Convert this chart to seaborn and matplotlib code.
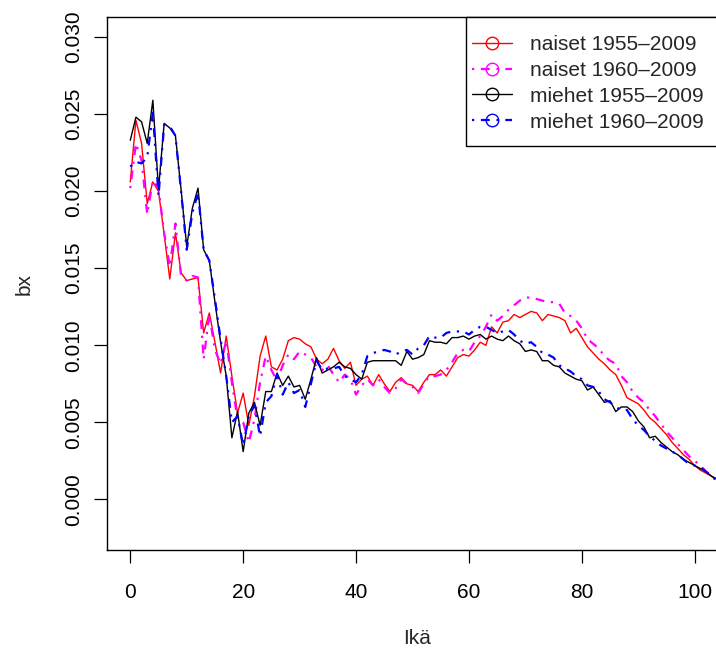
import matplotlib
matplotlib.use("Agg")
import matplotlib.pyplot as plt
from matplotlib.lines import Line2D
from matplotlib.patches import Rectangle
import numpy as np
import pandas as pd
import seaborn as sns

# Age (years) and the bx schedules estimated for each sex and fitting period
ages = list(range(0, 105))

naiset_1955 = [
    0.0206, 0.0246, 0.0231, 0.0192, 0.0206, 0.0200, 0.0172, 0.0143, 0.0173, 0.0147,
    0.0142, 0.0143, 0.0144, 0.0108, 0.0121, 0.0102, 0.0082, 0.0106, 0.0080, 0.0056,
    0.0069, 0.0048, 0.0067, 0.0093, 0.0106, 0.0086, 0.0084, 0.0091, 0.0103, 0.0105,
    0.0104, 0.0101, 0.0099, 0.0091, 0.0088, 0.0091, 0.0098, 0.0090, 0.0085, 0.0089,
    0.0074, 0.0078, 0.0080, 0.0074, 0.0081, 0.0075, 0.0070, 0.0076, 0.0079, 0.0075,
    0.0074, 0.0070, 0.0076, 0.0081, 0.0081, 0.0084, 0.0080, 0.0086, 0.0092, 0.0094,
    0.0093, 0.0097, 0.0102, 0.0100, 0.0112, 0.0108, 0.0115, 0.0116, 0.0120, 0.0118,
    0.0120, 0.0122, 0.0121, 0.0116, 0.0120, 0.0119, 0.0118, 0.0116, 0.0108, 0.0111,
    0.0105, 0.0099, 0.0095, 0.0091, 0.0088, 0.0084, 0.0081, 0.0074, 0.0066, 0.0064,
    0.0062, 0.0058, 0.0053, 0.0050, 0.0046, 0.0042, 0.0037, 0.0033, 0.0029, 0.0026,
    0.0022, 0.0019, 0.0017, 0.0015, 0.0013,
]

naiset_1960 = [
    0.0202, 0.0231, 0.0220, 0.0185, 0.0207, 0.0202, 0.0173, 0.0151, 0.0179, 0.0145,
    0.0142, 0.0145, 0.0144, 0.0091, 0.0120, 0.0097, 0.0088, 0.0103, 0.0076, 0.0052,
    0.0050, 0.0037, 0.0052, 0.0076, 0.0093, 0.0084, 0.0077, 0.0087, 0.0094, 0.0091,
    0.0096, 0.0094, 0.0092, 0.0086, 0.0084, 0.0087, 0.0081, 0.0076, 0.0081, 0.0078,
    0.0068, 0.0074, 0.0078, 0.0074, 0.0078, 0.0073, 0.0069, 0.0072, 0.0078, 0.0075,
    0.0073, 0.0069, 0.0075, 0.0080, 0.0080, 0.0081, 0.0084, 0.0089, 0.0095, 0.0097,
    0.0096, 0.0102, 0.0106, 0.0112, 0.0120, 0.0116, 0.0119, 0.0123, 0.0126, 0.0129,
    0.0131, 0.0131, 0.0130, 0.0129, 0.0128, 0.0128, 0.0127, 0.0121, 0.0119, 0.0116,
    0.0111, 0.0104, 0.0101, 0.0098, 0.0093, 0.0090, 0.0088, 0.0080, 0.0076, 0.0070,
    0.0066, 0.0063, 0.0058, 0.0054, 0.0049, 0.0044, 0.0040, 0.0036, 0.0032, 0.0028,
    0.0025, 0.0022, 0.0018, 0.0015, 0.0012,
]

miehet_1955 = [
    0.0233, 0.0248, 0.0245, 0.0231, 0.0259, 0.0201, 0.0244, 0.0241, 0.0236, 0.0201,
    0.0164, 0.0189, 0.0202, 0.0162, 0.0155, 0.0128, 0.0102, 0.0080, 0.0040, 0.0057,
    0.0031, 0.0056, 0.0063, 0.0048, 0.0070, 0.0070, 0.0082, 0.0074, 0.0080, 0.0073,
    0.0074, 0.0065, 0.0078, 0.0092, 0.0082, 0.0084, 0.0086, 0.0089, 0.0086, 0.0085,
    0.0081, 0.0078, 0.0089, 0.0090, 0.0090, 0.0090, 0.0090, 0.0090, 0.0087, 0.0096,
    0.0091, 0.0092, 0.0094, 0.0103, 0.0102, 0.0102, 0.0101, 0.0105, 0.0105, 0.0106,
    0.0104, 0.0106, 0.0107, 0.0104, 0.0106, 0.0104, 0.0103, 0.0106, 0.0103, 0.0101,
    0.0096, 0.0097, 0.0096, 0.0090, 0.0090, 0.0087, 0.0086, 0.0082, 0.0080, 0.0078,
    0.0077, 0.0071, 0.0073, 0.0068, 0.0063, 0.0064, 0.0057, 0.0060, 0.0060, 0.0057,
    0.0051, 0.0047, 0.0040, 0.0041, 0.0037, 0.0034, 0.0031, 0.0029, 0.0026, 0.0024,
    0.0022, 0.0020, 0.0018, 0.0015, 0.0013,
]

miehet_1960 = [
    0.0216, 0.0219, 0.0218, 0.0222, 0.0251, 0.0197, 0.0243, 0.0242, 0.0236, 0.0200,
    0.0162, 0.0186, 0.0199, 0.0162, 0.0155, 0.0130, 0.0104, 0.0080, 0.0050, 0.0054,
    0.0035, 0.0054, 0.0061, 0.0041, 0.0063, 0.0067, 0.0081, 0.0068, 0.0076, 0.0069,
    0.0071, 0.0060, 0.0075, 0.0090, 0.0084, 0.0085, 0.0085, 0.0086, 0.0080, 0.0078,
    0.0076, 0.0081, 0.0093, 0.0095, 0.0096, 0.0097, 0.0096, 0.0094, 0.0096, 0.0097,
    0.0094, 0.0098, 0.0100, 0.0106, 0.0105, 0.0105, 0.0108, 0.0109, 0.0109, 0.0109,
    0.0107, 0.0110, 0.0112, 0.0112, 0.0110, 0.0108, 0.0109, 0.0110, 0.0107, 0.0103,
    0.0101, 0.0102, 0.0099, 0.0095, 0.0094, 0.0092, 0.0087, 0.0085, 0.0083, 0.0080,
    0.0078, 0.0074, 0.0073, 0.0070, 0.0065, 0.0063, 0.0060, 0.0058, 0.0058, 0.0052,
    0.0048, 0.0045, 0.0041, 0.0038, 0.0035, 0.0033, 0.0031, 0.0029, 0.0026, 0.0023,
    0.0022, 0.0021, 0.0018, 0.0015, 0.0012,
]

labels = ["naiset 1955\u20132009", "naiset 1960\u20132009",
          "miehet 1955\u20132009", "miehet 1960\u20132009"]
colors = ["#FF0000", "#FF00FF", "#000000", "#0000FF"]

x_ticks = [0, 20, 40, 60, 80, 100]
y_ticks = [0.000, 0.005, 0.010, 0.015, 0.020, 0.025, 0.030]

sns.set_style("white")
plt.rcParams["font.family"] = ["Liberation Sans", "DejaVu Sans"]

W, H = 716, 649
fig = plt.figure(figsize=(W / 100, H / 100), dpi=100)
ax = fig.add_axes([107.3 / W, 99 / H, (727.5 - 107.3) / W, (550 - 17.3) / H])

series = [naiset_1955, naiset_1960, miehet_1955, miehet_1960]
solid_lw = 1.0
dash_lw = 1.6
dotdash = (0, (1, 3, 4, 3))
styles = [("-", solid_lw), (dotdash, dash_lw), ("-", solid_lw), (dotdash, dash_lw)]

for vals, lab, col, (ls, lw) in zip(series, labels, colors, styles):
    df = pd.DataFrame({"age": ages, "bx": vals})
    sns.lineplot(data=df, x="age", y="bx", ax=ax, color=col,
                 linestyle=ls, linewidth=lw, legend=False)

ax.set_xlim(-4.07, 105.8)
ax.set_ylim(-0.00328, 0.03128)
ax.set_xticks(x_ticks)
ax.set_xticklabels([str(t) for t in x_ticks])
ax.set_yticks(y_ticks)
ax.set_yticklabels([f"{t:.3f}" for t in y_ticks])

for sp in ax.spines.values():
    sp.set_visible(True)
    sp.set_color("black")
    sp.set_linewidth(1.0)

ax.tick_params(axis="both", which="major", direction="out", length=9.4,
               width=0.9, color="black", labelsize=15, labelcolor="black",
               bottom=True, left=True, top=False, right=False)
ax.tick_params(axis="x", pad=14)
ax.tick_params(axis="y", pad=8)
for lab in ax.get_yticklabels():
    lab.set_rotation(90)
    lab.set_va("center")
    lab.set_ha("right")

ax.set_xlabel("Ik\u00e4", fontsize=15, labelpad=20)
ax.set_ylabel("bx", fontsize=15, labelpad=22)
ax.grid(False)

# Legend box in the top-right corner of the plotting region
frame = Rectangle((466 / W, 1 - 146 / H), (727.5 - 466) / W, (146 - 17.3) / H,
                  transform=fig.transFigure, facecolor="white",
                  edgecolor="black", linewidth=1.0, clip_on=False, zorder=4)
ax.add_patch(frame)

handles = []
for col, (ls, lw) in zip(colors, styles):
    handles.append(Line2D([0], [0], color=col, linestyle=ls, linewidth=lw,
                          marker="o", markersize=9, markerfacecolor="none",
                          markeredgecolor=col, markeredgewidth=1.0))
leg = ax.legend(handles, labels, loc="upper left",
                bbox_to_anchor=(472 / W, 1 - 35 / H),
                bbox_transform=fig.transFigure,
                borderaxespad=0.0, borderpad=0.0, fontsize=15, frameon=False,
                handlelength=1.9, handletextpad=0.9, labelspacing=0.33,
                numpoints=1)
leg.set_zorder(5)

fig.savefig("out.png", dpi=100)
